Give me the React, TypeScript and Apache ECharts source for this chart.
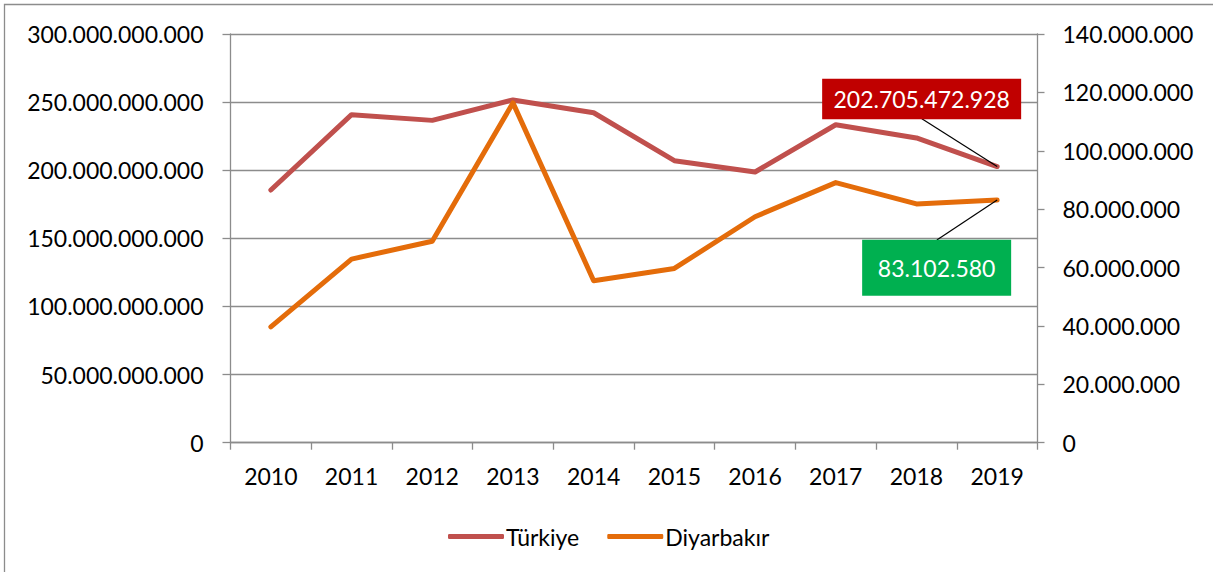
import React, { useEffect, useRef } from "react";
import * as echarts from "echarts";

const years = ["2010", "2011", "2012", "2013", "2014", "2015", "2016", "2017", "2018", "2019"];
const turkiye = [185.5e9, 240.8e9, 236.6e9, 251.6e9, 242.2e9, 207.0e9, 198.7e9, 233.4e9, 223.7e9, 202705472928];
const diyarbakir = [39.7e6, 62.9e6, 69.0e6, 116.4e6, 55.5e6, 59.7e6, 77.4e6, 89.1e6, 81.8e6, 83102580];
const seriesNames = ["Türkiye", "Diyarbakır"];
const colors = ["#C0504D", "#E46C0A"];

const FONT = "Lato";
const FS = 23;

function fmt(v: number): string {
  const s = Math.round(v).toString();
  return s.replace(/\B(?=(\d{3})+(?!\d))/g, ".");
}

export default function App() {
  const ref = useRef<HTMLDivElement>(null);
  useEffect(() => {
    document.body.style.margin = "0";
    const chart = echarts.init(ref.current!, undefined, { renderer: "svg" });
    const axisLineStyle = { color: "#8C8C8C", width: 1.3 };
    chart.setOption({
      animation: false,
      textStyle: { fontFamily: FONT },
      grid: { left: 230.5, right: 175.5, top: 34, bottom: 129.3, containLabel: false },
      legend: {
        left: 443,
        top: 520,
        itemWidth: 56,
        itemHeight: 5,
        itemGap: 28,
        icon: "roundRect",
        textStyle: { fontFamily: FONT, fontSize: FS, color: "#000", padding: [0, 0, 0, -3] },
        data: seriesNames,
      },
      xAxis: {
        type: "category",
        data: years,
        boundaryGap: true,
        axisLine: { lineStyle: axisLineStyle },
        axisTick: { show: true, length: 7, lineStyle: axisLineStyle },
        axisLabel: { fontFamily: FONT, fontSize: FS, color: "#000", margin: 22 },
      },
      yAxis: [
        {
          type: "value",
          min: 0,
          max: 300e9,
          interval: 50e9,
          axisLine: { show: true, lineStyle: axisLineStyle },
          axisTick: { show: true, length: 8, lineStyle: axisLineStyle },
          splitLine: { show: true, lineStyle: { color: "#8C8C8C", width: 1.3 } },
          axisLabel: { fontFamily: FONT, fontSize: FS, color: "#000", margin: 27, formatter: (v: number) => fmt(v) },
        },
        {
          type: "value",
          min: 0,
          max: 140e6,
          interval: 20e6,
          position: "right",
          axisLine: { show: true, lineStyle: axisLineStyle },
          axisTick: { show: true, length: 7, lineStyle: axisLineStyle },
          splitLine: { show: false },
          axisLabel: { fontFamily: FONT, fontSize: FS, color: "#000", margin: 25, formatter: (v: number) => fmt(v) },
        },
      ],
      series: [
        {
          name: seriesNames[0],
          type: "line",
          yAxisIndex: 0,
          data: turkiye,
          symbol: "none",
          color: colors[0],
          lineStyle: { width: 5, color: colors[0], cap: "round", join: "round" },
        },
        {
          name: seriesNames[1],
          type: "line",
          yAxisIndex: 1,
          data: diyarbakir,
          symbol: "none",
          color: colors[1],
          lineStyle: { width: 5, color: colors[1], cap: "round", join: "round" },
        },
      ],
    });

    const last = years.length - 1;
    const p1 = chart.convertToPixel({ xAxisIndex: 0, yAxisIndex: 0 }, [years[last], turkiye[last]]) as number[];
    const p2 = chart.convertToPixel({ xAxisIndex: 0, yAxisIndex: 1 }, [years[last], diyarbakir[last]]) as number[];

    chart.setOption({
      graphic: [
        {
          type: "rect",
          silent: true,
          shape: { x: 4.5, y: 4.5, width: 1230, height: 620 },
          style: { fill: "none", stroke: "#8C8C8C", lineWidth: 1.3 },
        },
        {
          type: "line",
          silent: true,
          shape: { x1: p1[0], y1: p1[1], x2: p1[0] - 75.3, y2: p1[1] - 47.7 },
          style: { stroke: "#000", lineWidth: 1.2 },
          z: 10,
        },
        {
          type: "rect",
          silent: true,
          shape: { x: p1[0] - 175, y: p1[1] - 87.7, width: 199, height: 40.3 },
          style: { fill: "#C00000" },
          z: 11,
        },
        {
          type: "text",
          silent: true,
          x: p1[0] - 75.5,
          y: p1[1] - 67.5,
          style: {
            text: fmt(turkiye[last]),
            fill: "#fff",
            fontFamily: FONT,
            fontSize: FS,
            align: "center",
            verticalAlign: "middle",
          },
          z: 12,
        },
        {
          type: "line",
          silent: true,
          shape: { x1: p2[0], y1: p2[1], x2: p2[0] - 60.3, y2: p2[1] + 40 },
          style: { stroke: "#000", lineWidth: 1.2 },
          z: 10,
        },
        {
          type: "rect",
          silent: true,
          shape: { x: p2[0] - 135, y: p2[1] + 39.7, width: 149, height: 56 },
          style: { fill: "#00B050" },
          z: 11,
        },
        {
          type: "text",
          silent: true,
          x: p2[0] - 60.5,
          y: p2[1] + 68,
          style: {
            text: fmt(diyarbakir[last]),
            fill: "#fff",
            fontFamily: FONT,
            fontSize: FS,
            align: "center",
            verticalAlign: "middle",
          },
          z: 12,
        },
      ],
    });

    return () => chart.dispose();
  }, []);
  return <div ref={ref} style={{ width: 1213, height: 572 }} />;
}
